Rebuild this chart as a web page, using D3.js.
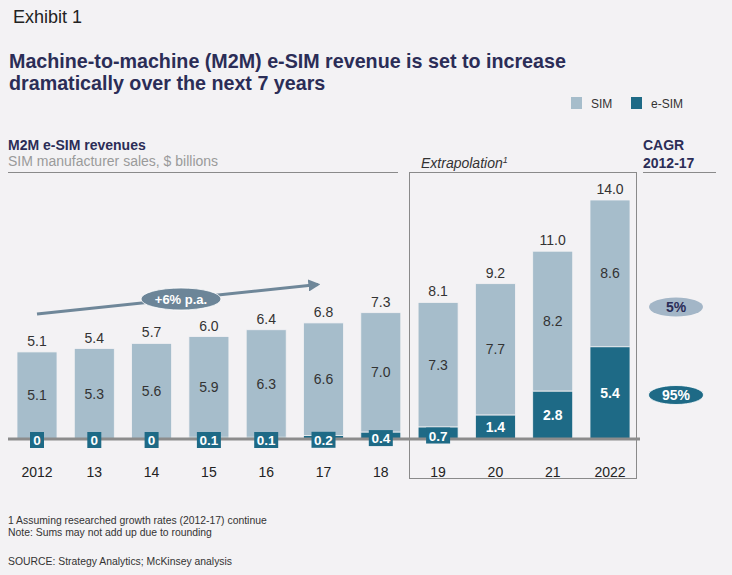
<!DOCTYPE html>
<html><head><meta charset="utf-8">
<script src="https://cdn.jsdelivr.net/npm/d3@7"></script>
<style>
html,body{margin:0;padding:0;background:#f3f2f4;}
svg{display:block;font-family:"Liberation Sans",Arial,sans-serif;}
</style></head>
<body><svg id="c" width="732" height="575"></svg>
<script>
const years = ["2012","13","14","15","16","17","18","19","20","21","2022"];
const simValues = [5.1,5.3,5.6,5.9,6.3,6.6,7.0,7.3,7.7,8.2,8.6];
const esimValues = [0,0,0,0.1,0.1,0.2,0.4,0.7,1.4,2.8,5.4];
const totalLabels = ["5.1","5.4","5.7","6.0","6.4","6.8","7.3","8.1","9.2","11.0","14.0"];
const simLabels = ["5.1","5.3","5.6","5.9","6.3","6.6","7.0","7.3","7.7","8.2","8.6"];
const esimLabels = ["0","0","0","0.1","0.1","0.2","0.4","0.7","1.4","2.8","5.4"];
const cagrLabels = ["5%","95%"];
const growthLabel = "+6% p.a.";

const SIM_C = "#a6bdcb", ESIM_C = "#1e6a86", NAVY = "#2b2d57";
const svg = d3.select("#c");

const x = d3.scalePoint().domain(years).range([37, 610]);
const y = d3.scaleLinear().domain([0, 14]).range([439, 200]);
const bw = 40;

// Header texts
svg.append("text").attr("x",13).attr("y",23).attr("font-size",18).attr("fill","#222").text("Exhibit 1");
svg.append("text").attr("x",9).attr("y",68).attr("font-size",19.7).attr("font-weight","bold").attr("fill",NAVY)
  .text("Machine-to-machine (M2M) e-SIM revenue is set to increase");
svg.append("text").attr("x",9).attr("y",90).attr("font-size",19.7).attr("font-weight","bold").attr("fill",NAVY)
  .text("dramatically over the next 7 years");

// Legend
const leg = [{k:"SIM",c:SIM_C,x:571},{k:"e-SIM",c:ESIM_C,x:631}];
leg.forEach(l=>{
  svg.append("rect").attr("x",l.x).attr("y",97).attr("width",11).attr("height",12).attr("fill",l.c);
  svg.append("text").attr("x",l.x+20).attr("y",108).attr("font-size",12).attr("fill","#333").text(l.k);
});

// Subheader
svg.append("text").attr("x",8).attr("y",150).attr("font-size",14).attr("font-weight","bold").attr("fill",NAVY).text("M2M e-SIM revenues");
svg.append("text").attr("x",8).attr("y",166).attr("font-size",14).attr("fill","#9a9a9a").text("SIM manufacturer sales, $ billions");
svg.append("line").attr("x1",8).attr("x2",398).attr("y1",172.5).attr("y2",172.5).attr("stroke","#8a8a8a").attr("stroke-width",1);
svg.append("text").attr("x",643).attr("y",150).attr("font-size",14).attr("font-weight","bold").attr("fill",NAVY).text("CAGR");
svg.append("text").attr("x",643).attr("y",168).attr("font-size",14).attr("font-weight","bold").attr("fill",NAVY).text("2012-17");
svg.append("line").attr("x1",643).attr("x2",716).attr("y1",172.5).attr("y2",172.5).attr("stroke","#8a8a8a").attr("stroke-width",1);

// Extrapolation box
svg.append("rect").attr("x",409.5).attr("y",172.5).attr("width",227).attr("height",306).attr("fill","none").attr("stroke","#8a8a8a").attr("stroke-width",1);
const ex = svg.append("text").attr("x",421).attr("y",168).attr("font-size",14).attr("font-style","italic").attr("fill","#333");
ex.append("tspan").text("Extrapolation");
ex.append("tspan").attr("font-size",9).attr("dy",-5).text("1");

// Bars
const data = years.map((yr,i)=>({yr,sim:simValues[i],esim:esimValues[i],tot:totalLabels[i],sl:simLabels[i],el:esimLabels[i]}));
const g = svg.append("g");
g.selectAll(".sim").data(data).join("rect")
  .attr("x",d=>x(d.yr)-bw/2).attr("width",bw)
  .attr("y",d=>y(d.esim+d.sim)).attr("height",d=>y(d.esim)-y(d.esim+d.sim))
  .attr("fill",SIM_C).attr("stroke","#f3f2f4").attr("stroke-width",0.8);
g.selectAll(".esim").data(data.filter(d=>d.esim>0)).join("rect")
  .attr("x",d=>x(d.yr)-bw/2).attr("width",bw)
  .attr("y",d=>y(d.esim)).attr("height",d=>y(0)-y(d.esim))
  .attr("fill",ESIM_C).attr("stroke","#f3f2f4").attr("stroke-width",0.8);

// Baseline
svg.append("line").attr("x1",8).attr("x2",640).attr("y1",439).attr("y2",439).attr("stroke","#8c8c8c").attr("stroke-width",3);

const gl = svg.append("g");
// Total labels
gl.selectAll(".tot").data(data).join("text")
  .attr("x",d=>x(d.yr)).attr("y",d=>y(d.esim+d.sim)-6)
  .attr("text-anchor","middle").attr("font-size",14).attr("fill","#333").text(d=>d.tot);
// SIM labels
gl.selectAll(".sl").data(data).join("text")
  .attr("x",d=>x(d.yr)).attr("y",d=>(y(d.esim+d.sim)+y(d.esim))/2+5)
  .attr("text-anchor","middle").attr("font-size",14).attr("fill","#333").text(d=>d.sl);
// e-SIM labels
data.forEach(d=>{
  const cx = x(d.yr);
  if (d.esim >= 1) {
    gl.append("text").attr("x",cx).attr("y",(y(d.esim)+y(0))/2+5).attr("text-anchor","middle")
      .attr("font-size",14).attr("font-weight","bold").attr("fill","#fff").text(d.el);
  } else {
    const cy = Math.min(440, y(d.esim/2)+2.5);
    const w = d.el.length===1 ? 14 : 24;
    gl.append("rect").attr("x",cx-w/2).attr("y",cy-8).attr("width",w).attr("height",16).attr("fill",ESIM_C);
    gl.append("text").attr("x",cx).attr("y",cy+5).attr("text-anchor","middle")
      .attr("font-size",13.5).attr("font-weight","bold").attr("fill","#fff").text(d.el);
  }
});

// Year labels
gl.selectAll(".yr").data(data).join("text")
  .attr("x",d=>x(d.yr)).attr("y",477).attr("text-anchor","middle").attr("font-size",14).attr("fill","#222").text(d=>d.yr);

// Growth arrow
const defs = svg.append("defs");
defs.append("marker").attr("id","ah").attr("viewBox","0 0 10 10").attr("refX",8).attr("refY",5)
  .attr("markerWidth",4).attr("markerHeight",4).attr("orient","auto")
  .append("path").attr("d","M0,0L10,5L0,10z").attr("fill","#6f8799");
svg.append("line").attr("x1",x("2012")).attr("y1",314).attr("x2",318).attr("y2",284.5)
  .attr("stroke","#6f8799").attr("stroke-width",3).attr("marker-end","url(#ah)");
svg.append("ellipse").attr("cx",181).attr("cy",299).attr("rx",40).attr("ry",11).attr("fill","#6c8598").attr("stroke","#fff").attr("stroke-width",0.8);
svg.append("text").attr("x",181).attr("y",304).attr("text-anchor","middle").attr("font-size",13).attr("font-weight","bold").attr("fill","#fff").text(growthLabel);

// CAGR ellipses
svg.append("ellipse").attr("cx",676).attr("cy",307).attr("rx",27).attr("ry",9.5).attr("fill","#a3b6c7");
svg.append("text").attr("x",676).attr("y",312).attr("text-anchor","middle").attr("font-size",14).attr("font-weight","bold").attr("fill",NAVY).text(cagrLabels[0]);
svg.append("ellipse").attr("cx",676).attr("cy",395).attr("rx",27.5).attr("ry",9.5).attr("fill",ESIM_C).attr("stroke","#fff").attr("stroke-width",0.8);
svg.append("text").attr("x",676).attr("y",400).attr("text-anchor","middle").attr("font-size",14).attr("font-weight","bold").attr("fill","#fff").text(cagrLabels[1]);

// Footnotes
const fn = [["1 Assuming researched growth rates (2012-17) continue",524],["Note: Sums may not add up due to rounding",536],["SOURCE: Strategy Analytics; McKinsey analysis",565]];
fn.forEach(f=>svg.append("text").attr("x",8).attr("y",f[1]).attr("font-size",10.4).attr("fill","#333").text(f[0]));
</script></body></html>
